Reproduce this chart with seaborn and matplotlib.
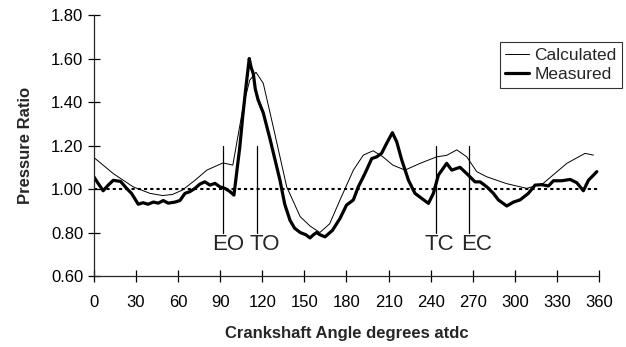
import matplotlib
matplotlib.use("Agg")
import matplotlib.pyplot as plt
import numpy as np
import pandas as pd
import seaborn as sns

# values
calc_angle = [0, 14, 28, 40, 49, 56, 63, 72, 80.5, 92, 99, 106.4, 111, 115.5, 120.7, 127.8,
              137.4, 147, 154, 161, 168, 175.4, 184.9, 192, 199, 206, 213, 221.7, 232.4,
              244.3, 251.4, 258.6, 265.7, 272.8, 280, 294, 308.5, 320, 337, 350, 356]
calc_ratio = [1.145, 1.07, 1.01, 0.98, 0.97, 0.975, 0.995, 1.04, 1.087, 1.12, 1.11, 1.38,
              1.50, 1.537, 1.486, 1.286, 1.01, 0.873, 0.83, 0.80, 0.84, 0.95, 1.087, 1.156,
              1.176, 1.148, 1.11, 1.087, 1.118, 1.148, 1.155, 1.18, 1.148, 1.08, 1.056,
              1.025, 1.003, 1.025, 1.118, 1.164, 1.156]

meas_angle = [0, 3, 6.6, 10.2, 13.8, 19, 23.3, 26.8, 31.6, 35, 38.6, 42.3, 45.9, 49.4, 53,
              57.8, 61.3, 64.9, 68.4, 72, 75.6, 79.1, 82.7, 86.3, 89.8, 93.4, 97, 99.8,
              101.7, 104, 106, 108, 110.7, 112, 113.6, 115, 117, 120.7, 125.5, 132.6, 136,
              139.7, 143, 147, 151, 154, 156.5, 158.7, 161, 164.7, 170, 175.4, 180, 184.9,
              188.4, 193.2, 198, 201.5, 205, 208.6, 212.7, 215.8, 219.4, 224.2, 228.8,
              233.6, 238.4, 241.9, 245.5, 251.4, 255, 260.9, 266.8, 271.6, 275.2, 280,
              284.7, 288.2, 294.2, 299, 303.7, 309.6, 314.4, 319, 323.9, 327.5, 333.4,
              339.4, 344.1, 348.8, 352.4, 358.4]
meas_ratio = [1.056, 1.026, 0.992, 1.018, 1.04, 1.035, 1.003, 0.98, 0.93, 0.937, 0.93, 0.94,
              0.935, 0.947, 0.935, 0.94, 0.947, 0.98, 0.988, 1.003, 1.023, 1.033, 1.018,
              1.026, 1.01, 1.003, 0.988, 0.972, 1.073, 1.195, 1.33, 1.45, 1.60, 1.56, 1.53,
              1.46, 1.41, 1.35, 1.23, 1.04, 0.93, 0.857, 0.82, 0.80, 0.79, 0.775, 0.79,
              0.80, 0.79, 0.78, 0.81, 0.865, 0.926, 0.95, 1.01, 1.072, 1.14, 1.148, 1.164,
              1.21, 1.259, 1.217, 1.133, 1.04, 0.98, 0.957, 0.934, 0.98, 1.064, 1.118,
              1.087, 1.10, 1.064, 1.033, 1.033, 1.01, 0.98, 0.95, 0.922, 0.94, 0.95, 0.98,
              1.018, 1.02, 1.014, 1.038, 1.038, 1.044, 1.029, 0.992, 1.04, 1.08]

event_angle = [92, 116, 243.5, 267.5]
event_name = ["EO", "TO", "TC", "EC"]
event_label_x = [95.5, 122, 246.5, 273]

sns.set_style("ticks")
plt.rcParams["font.family"] = ["Liberation Sans", "DejaVu Sans"]

df = pd.concat([
    pd.DataFrame({"angle": calc_angle, "ratio": calc_ratio, "series": "Calculated"}),
    pd.DataFrame({"angle": meas_angle, "ratio": meas_ratio, "series": "Measured"}),
])

fig = plt.figure(figsize=(6.26, 3.47), dpi=100)
ax = fig.add_axes([0.150, 0.2046, 0.807, 0.752])

sns.lineplot(data=df, x="angle", y="ratio", hue="series", size="series",
             sizes={"Calculated": 0.7, "Measured": 2.3},
             palette={"Calculated": "black", "Measured": "black"}, ax=ax)

ax.axhline(1.0, color="black", lw=1.5, ls=(0, (1.5, 1.5)), zorder=1)

for a, name, lx in zip(event_angle, event_name, event_label_x):
    ax.plot([a, a], [0.80, 1.20], color="black", lw=0.9)
    ax.text(lx, 0.745, name, ha="center", va="center", fontsize=16)

ax.set_xlim(0, 360)
ax.set_ylim(0.6, 1.8)
ax.set_xticks(np.arange(0, 361, 30))
ax.set_yticks(np.arange(0.6, 1.81, 0.2))
ax.set_yticklabels([f"{v:.2f}" for v in np.arange(0.6, 1.81, 0.2)])
ax.tick_params(direction="inout", length=8, width=0.9, labelsize=12, colors="black")
ax.xaxis.set_tick_params(pad=10)
sns.despine(ax=ax)
ax.spines["left"].set_linewidth(0.9)
ax.spines["bottom"].set_linewidth(0.9)

ax.set_xlabel("Crankshaft Angle degrees atdc", fontsize=12, fontweight="bold", labelpad=11)
ax.set_ylabel("Pressure Ratio", fontsize=12, fontweight="bold", labelpad=13)

leg = ax.legend(title=None, loc="upper right", bbox_to_anchor=(1.045, 0.895), fontsize=12.5,
                frameon=True, fancybox=False, edgecolor="black", handlelength=1.4,
                borderpad=0.3, labelspacing=0.25, handletextpad=0.3, borderaxespad=0)
leg.get_frame().set_linewidth(0.8)

fig.savefig("out.png", dpi=100)
